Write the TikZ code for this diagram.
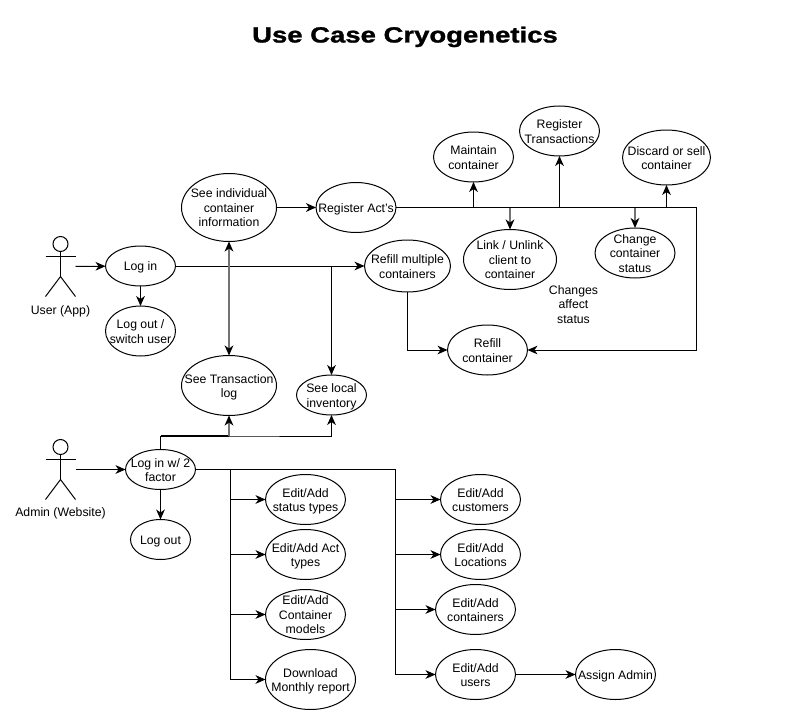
\documentclass[tikz,border=0pt]{standalone}
\usepackage{fontspec}
\setmainfont{Liberation Sans}
\newfontfamily\titlefont[UprightFont=* Bold,FakeStretch=1.25,FakeBold=1.2]{Liberation Sans}
\usepackage{tikz}
\usetikzlibrary{arrows.meta,shapes.geometric}

\newcommand{\uclabel}[1]{\smash{\makebox[0pt]{\raisebox{-3.75pt}{\begin{tabular}{@{}c@{}}#1\end{tabular}}}}}
\newcommand{\drawactor}[1]{%
\draw (#1.north) ++(0,7.5) circle [radius=7.5];
\draw (#1.north) ++(0,15) -- (#1.center) ++(0,10) coordinate (#1body);
\draw (#1.north) ++(0,15) -- (#1body);
\draw (#1.north west) ++(0,20) -- ++(30,0);
\draw (#1.south west) -- (#1body) -- (#1.south east);
}

\tikzset{
  usecase/.style 2 args={draw,ellipse,inner sep=0pt,outer sep=0pt,minimum width=#1*0.75pt,minimum height=#2*0.75pt},
  textnode/.style={inner sep=0.75pt,align=center},
  actor/.style={inner sep=0pt,outer sep=0pt,minimum width=22.5pt,minimum height=45pt},
  conn/.style={-{Stealth[length=7.5pt,width=6.5pt,inset=2.25pt]},line width=0.75pt},
  grayconn/.style={conn,draw=black!55,line width=1.5pt,{Stealth[length=7.5pt,width=6.5pt,inset=2.25pt,black]}-{Stealth[length=7.5pt,width=6.5pt,inset=2.25pt,black]}},
  grayarrow/.style={-{Stealth[length=7.5pt,width=6.5pt,inset=2.25pt,black]},draw=black!55,line width=1.5pt},
  plainline/.style={line width=0.75pt},
}

\begin{document}
\begin{tikzpicture}[x=0.75pt,y=0.75pt,yscale=-1,xscale=1,font=\fontsize{9.2}{10.9}\selectfont,line width=0.75pt]
\useasboundingbox (0,0) rectangle (810,710);

% Title
\node (title) at (405,42.5) [anchor=base,inner sep=0pt,font=\fontsize{16.5}{19}\titlefont] {Use Case Cryogenetics};

% Actors
\node (user) at (60.5,266.5) [actor] {};
\drawactor{user}
\node (userlabel) at (60.5,311) [textnode] {User (App)};
\node (admin) at (60.5,469.5) [actor] {};
\drawactor{admin}
\node (adminlabel) at (60.5,513) [textnode] {Admin (Website)};

% App use cases
\node (login) at (140.5,266) [usecase={70}{40}] {\uclabel{Log in}};
\node (logoutuser) at (140.5,331) [usecase={70}{50}] {\uclabel{Log out /\\switch user}};
\node (info) at (229,207.5) [usecase={95}{68}] {\uclabel{See individual\\container\\information}};
\node (act) at (356,207.5) [usecase={80}{50}] {\uclabel{Register Act's}};
\node (translog) at (229,385.5) [usecase={95}{60}] {\uclabel{See Transaction\\log}};
\node (inventory) at (331.5,395) [usecase={70}{40}] {\uclabel{See local\\inventory}};
\node (refillmulti) at (407.5,266) [usecase={86}{52}] {\uclabel{Refill multiple\\containers}};
\node (refill) at (487.5,350) [usecase={80}{50}] {\uclabel{Refill\\container}};
\node (maintain) at (473.5,157) [usecase={80}{50}] {\uclabel{Maintain\\container}};
\node (transactions) at (559.5,131) [usecase={80}{50}] {\uclabel{Register\\Transactions}};
\node (discard) at (666.5,157.5) [usecase={88}{55}] {\uclabel{Discard or sell\\container}};
\node (link) at (510,259.5) [usecase={93}{60}] {\uclabel{Link / Unlink\\client to\\container}};
\node (status) at (635,253) [usecase={80}{50}] {\uclabel{Change\\container\\status}};

% Text Node
\node (affect) at (573.5,304.5) [textnode] {Changes\\affect\\status};

% Website use cases
\node (twofactor) at (160.5,469.5) [usecase={70}{40}] {\uclabel{Log in w/ 2\\factor}};
\node (logoutadmin) at (160.5,539.5) [usecase={60}{40}] {\uclabel{Log out}};
\node (statustypes) at (305.5,499.5) [usecase={80}{50}] {\uclabel{Edit/Add\\status types}};
\node (acttypes) at (305.5,554.5) [usecase={80}{50}] {\uclabel{Edit/Add Act\\types}};
\node (models) at (305.5,614.5) [usecase={80}{50}] {\uclabel{Edit/Add\\Container\\models}};
\node (report) at (310.5,679.5) [usecase={90}{60}] {\uclabel{Download\\Monthly report}};
\node (customers) at (480.5,499.5) [usecase={80}{50}] {\uclabel{Edit/Add\\customers}};
\node (locations) at (480.5,554.5) [usecase={80}{50}] {\uclabel{Edit/Add\\Locations}};
\node (containers) at (475.5,609.5) [usecase={80}{50}] {\uclabel{Edit/Add\\containers}};
\node (users) at (475.5,674.5) [usecase={80}{50}] {\uclabel{Edit/Add\\users}};
\node (assign) at (615.5,674.5) [usecase={80}{50}] {\uclabel{Assign Admin}};

% Corner points
\coordinate (actcorner) at (696.5,207.5);
\coordinate (jlog) at (229,436);
\coordinate (busleft) at (230.5,469.5);
\coordinate (busright) at (395.5,469.5);

% App connectors
\draw [conn] (user) -- (login);
\draw [conn] (login) -- (logoutuser);
\draw [conn] (login) -- (refillmulti);
\draw [conn] (login -| inventory) -- (inventory);
\draw [grayconn] (info) -- (translog);
\draw [conn] (info) -- (act);
\draw [conn] (act) -- (actcorner) |- (refill);
\draw [conn] (act -| maintain) -- (maintain);
\draw [conn] (act -| transactions) -- (transactions);
\draw [conn] (act -| discard) -- (discard);
\draw [grayarrow] (act -| link) -- (link);
\draw [grayarrow] (act -| status) -- (status);
\draw [conn] (refillmulti) |- (refill);

% Website connectors
\draw [conn] (admin) -- (twofactor);
\draw [conn] (twofactor) -- (logoutadmin);
\draw [conn] (twofactor) |- (jlog) -| (inventory);
\draw [line width=1.5pt] (twofactor |- jlog) -- (jlog);
\draw [grayarrow] (jlog) -- (translog);
\draw [plainline] (twofactor) -- (busright);
\draw [conn] (busleft) |- (report);
\draw [conn] (busleft |- statustypes) -- (statustypes);
\draw [conn] (busleft |- acttypes) -- (acttypes);
\draw [conn] (busleft |- models) -- (models);
\draw [conn] (busright) |- (users);
\draw [conn] (busright |- customers) -- (customers);
\draw [conn] (busright |- locations) -- (locations);
\draw [conn] (busright |- containers) -- (containers);
\draw [conn] (users) -- (assign);

\end{tikzpicture}
\end{document}
